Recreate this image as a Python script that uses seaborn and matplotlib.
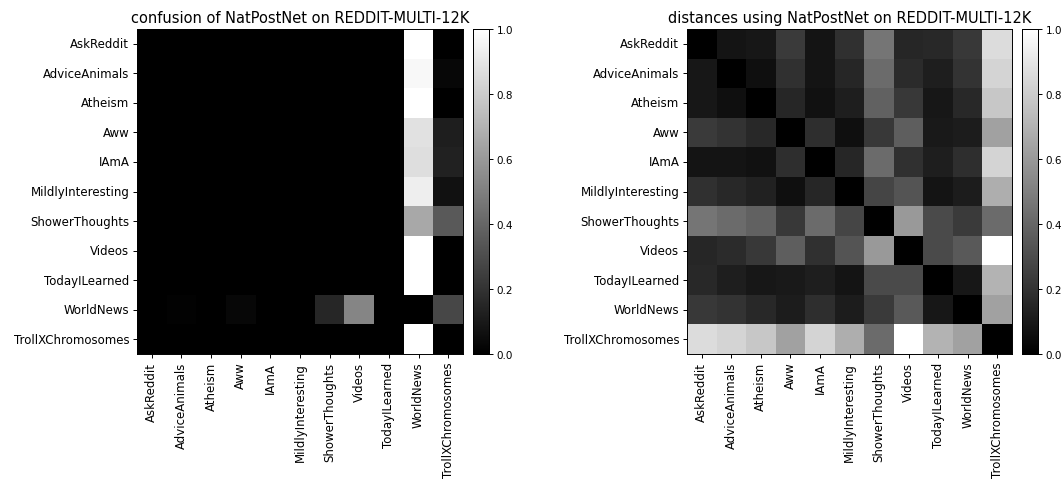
import numpy as np
import pandas as pd
import matplotlib
matplotlib.use("Agg")
import matplotlib.pyplot as plt
import seaborn as sns

categories = ["AskReddit", "AdviceAnimals", "Atheism", "Aww", "IAmA",
              "MildlyInteresting", "ShowerThoughts", "Videos", "TodayILearned",
              "WorldNews", "TrollXChromosomes"]

# confusion matrix rows (true class) -> columns (predicted class)
conf_askreddit = [0, 0, 0, 0, 0, 0, 0, 0, 0, 1.00, 0.00]
conf_adviceanimals = [0, 0, 0, 0, 0, 0, 0, 0, 0, 0.97, 0.03]
conf_atheism = [0, 0, 0, 0, 0, 0, 0, 0, 0, 1.00, 0.00]
conf_aww = [0, 0, 0, 0, 0, 0, 0, 0, 0, 0.88, 0.12]
conf_iama = [0, 0, 0, 0, 0, 0, 0, 0, 0, 0.87, 0.13]
conf_mildly = [0, 0, 0, 0, 0, 0, 0, 0, 0, 0.93, 0.07]
conf_shower = [0, 0, 0, 0, 0, 0, 0, 0, 0, 0.66, 0.35]
conf_videos = [0, 0, 0, 0, 0, 0, 0, 0, 0, 1.00, 0.00]
conf_til = [0, 0, 0, 0, 0, 0, 0, 0, 0, 1.00, 0.00]
conf_worldnews = [0, 0.01, 0, 0.03, 0, 0, 0.15, 0.52, 0, 0.00, 0.28]
conf_trollx = [0, 0, 0, 0, 0, 0, 0, 0, 0, 1.00, 0.00]

dist_askreddit = [0.00, 0.08, 0.09, 0.23, 0.08, 0.19, 0.46, 0.15, 0.16, 0.22, 0.86]
dist_adviceanimals = [0.09, 0.00, 0.06, 0.19, 0.08, 0.15, 0.42, 0.17, 0.12, 0.20, 0.83]
dist_atheism = [0.09, 0.06, 0.00, 0.15, 0.07, 0.12, 0.38, 0.22, 0.09, 0.16, 0.78]
dist_aww = [0.23, 0.20, 0.16, 0.00, 0.18, 0.06, 0.22, 0.37, 0.10, 0.11, 0.63]
dist_iama = [0.08, 0.08, 0.07, 0.18, 0.00, 0.15, 0.42, 0.19, 0.12, 0.18, 0.83]
dist_mildly = [0.19, 0.16, 0.13, 0.06, 0.15, 0.00, 0.27, 0.33, 0.08, 0.11, 0.68]
dist_shower = [0.46, 0.42, 0.38, 0.22, 0.42, 0.27, 0.00, 0.60, 0.29, 0.23, 0.42]
dist_videos = [0.15, 0.17, 0.22, 0.37, 0.19, 0.33, 0.60, 0.00, 0.29, 0.35, 1.00]
dist_til = [0.16, 0.12, 0.09, 0.10, 0.12, 0.08, 0.29, 0.29, 0.00, 0.09, 0.70]
dist_worldnews = [0.22, 0.20, 0.16, 0.11, 0.18, 0.11, 0.23, 0.35, 0.09, 0.00, 0.63]
dist_trollx = [0.86, 0.83, 0.78, 0.63, 0.83, 0.68, 0.42, 1.00, 0.70, 0.63, 0.00]

conf_rows = [conf_askreddit, conf_adviceanimals, conf_atheism, conf_aww, conf_iama,
             conf_mildly, conf_shower, conf_videos, conf_til, conf_worldnews, conf_trollx]
dist_rows = [dist_askreddit, dist_adviceanimals, dist_atheism, dist_aww, dist_iama,
             dist_mildly, dist_shower, dist_videos, dist_til, dist_worldnews, dist_trollx]

conf_df = pd.DataFrame(conf_rows, index=categories, columns=categories)
dist_df = pd.DataFrame(dist_rows, index=categories, columns=categories)

plt.rcParams['font.family'] = ['DejaVu Sans']

W, H = 1063, 481
fig = plt.figure(figsize=(W / 100, H / 100), dpi=100)

def px_axes(x0, y0, x1, y1):
    return fig.add_axes([x0 / W, 1 - y1 / H, (x1 - x0) / W, (y1 - y0) / H])

panels = [
    (conf_df, "confusion of NatPostNet on REDDIT-MULTI-12K", (137, 30, 463, 355), (473, 30, 489, 355)),
    (dist_df, "distances using NatPostNet on REDDIT-MULTI-12K", (687, 30, 1012, 355), (1022, 30, 1038, 355)),
]

for df, title, axbox, cbbox in panels:
    ax = px_axes(*axbox)
    cax = px_axes(*cbbox)
    sns.heatmap(df, ax=ax, cbar_ax=cax, cmap="gray", vmin=0, vmax=1,
                square=False, xticklabels=True, yticklabels=True)
    for s in ax.spines.values():
        s.set_visible(True)
        s.set_linewidth(0.7)
        s.set_color("black")
    ax.tick_params(axis="both", which="both", length=3, width=0.7, labelsize=8.5, pad=2.5)
    ax.set_xticklabels(categories, rotation=90)
    ax.set_yticklabels(categories, rotation=0)
    ax.set_title(title, fontsize=10.5, pad=5)
    cax.set_yticks([0, 0.2, 0.4, 0.6, 0.8, 1.0])
    cax.set_yticklabels(["0.0", "0.2", "0.4", "0.6", "0.8", "1.0"])
    cax.tick_params(labelsize=7.5, length=3, width=0.7, pad=2.5)
    for s in cax.spines.values():
        s.set_visible(True)
        s.set_linewidth(0.7)
        s.set_color("black")

fig.savefig("out.png", dpi=100)
